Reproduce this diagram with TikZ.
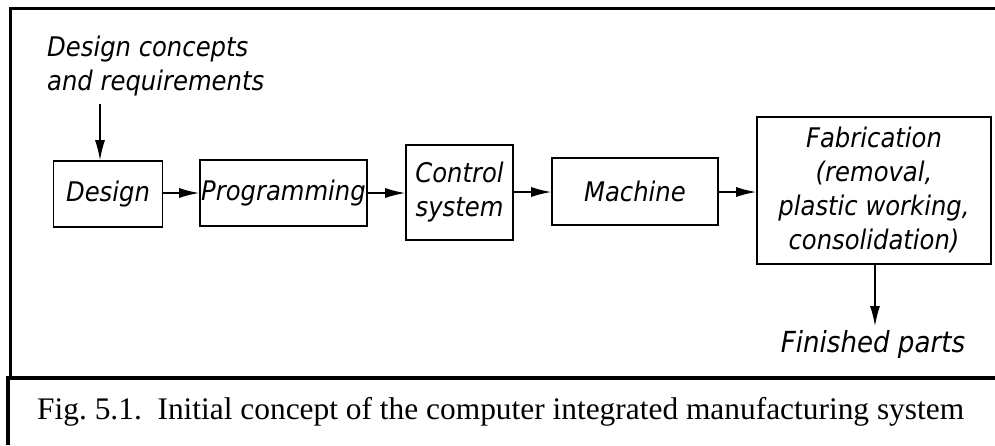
\documentclass[tikz,border=0pt]{standalone}
\usepackage{fontspec}
\setmainfont{Liberation Serif}
\newfontfamily\hand{DejaVu Sans Condensed}
\usetikzlibrary{arrows.meta}
\tikzset{
  lbl/.style={font=\hand\itshape\fontsize{27}{34}\selectfont, align=center, inner sep=0pt},
  blk/.style={draw, line width=1.6pt, lbl},
  arr/.style={line width=1.4pt, -{Latex[length=20pt,width=10pt]}},
  frame/.style={line width=3pt},
}
\begin{document}
\begin{tikzpicture}[x=1pt,y=-1pt]
\useasboundingbox (0,0) rectangle (995,445);
% frame
\draw[frame] (10,378) -- (10,8) -- (995,8);
\draw[frame, line width=4pt] (8,445) -- (8,378) -- (995,378);
% blocks
\node[blk, minimum width=109pt, minimum height=66pt] (design) at (108,194) {Design};
\node[blk, minimum width=167pt, minimum height=66pt] (prog) at (283.5,193) {Programming};
\node[blk, minimum width=107pt, minimum height=95pt] (ctrl) at (459.5,192.5) {Control\\system};
\node[blk, minimum width=166pt, minimum height=67pt] (mach) at (635,191.5) {Machine};
\node[blk, minimum width=234pt, minimum height=147pt] (fab) at (874,190.5) {Fabrication\\(removal,\\plastic working,\\consolidation)};
% labels
\node[lbl, align=left, anchor=north west] (req) at (47,36) {Design concepts\\and requirements};
\node[lbl, anchor=center, font=\hand\itshape\fontsize{29}{34}\selectfont] (fin) at (873,344) {Finished parts};
\coordinate (reqend) at (100,104);
\coordinate (finend) at (875,326);
% connectors
\draw[arr] (reqend) -- (reqend |- design.north);
\draw[arr] (design.east |- 0,193) -- (prog.west |- 0,193);
\draw[arr] (prog.east |- 0,193) -- (ctrl.west |- 0,193);
\draw[arr] (ctrl.east |- 0,192) -- (mach.west |- 0,192);
\draw[arr] (mach.east |- 0,192) -- (fab.west |- 0,192);
\draw[arr] (finend |- fab.south) -- (finend);
% caption
\node[font=\fontsize{31.4}{36}\selectfont, anchor=base west, inner sep=0pt] (cap) at (37,419) {Fig.~5.1.\ \ Initial concept of the computer integrated manufacturing system};
\end{tikzpicture}
\end{document}
